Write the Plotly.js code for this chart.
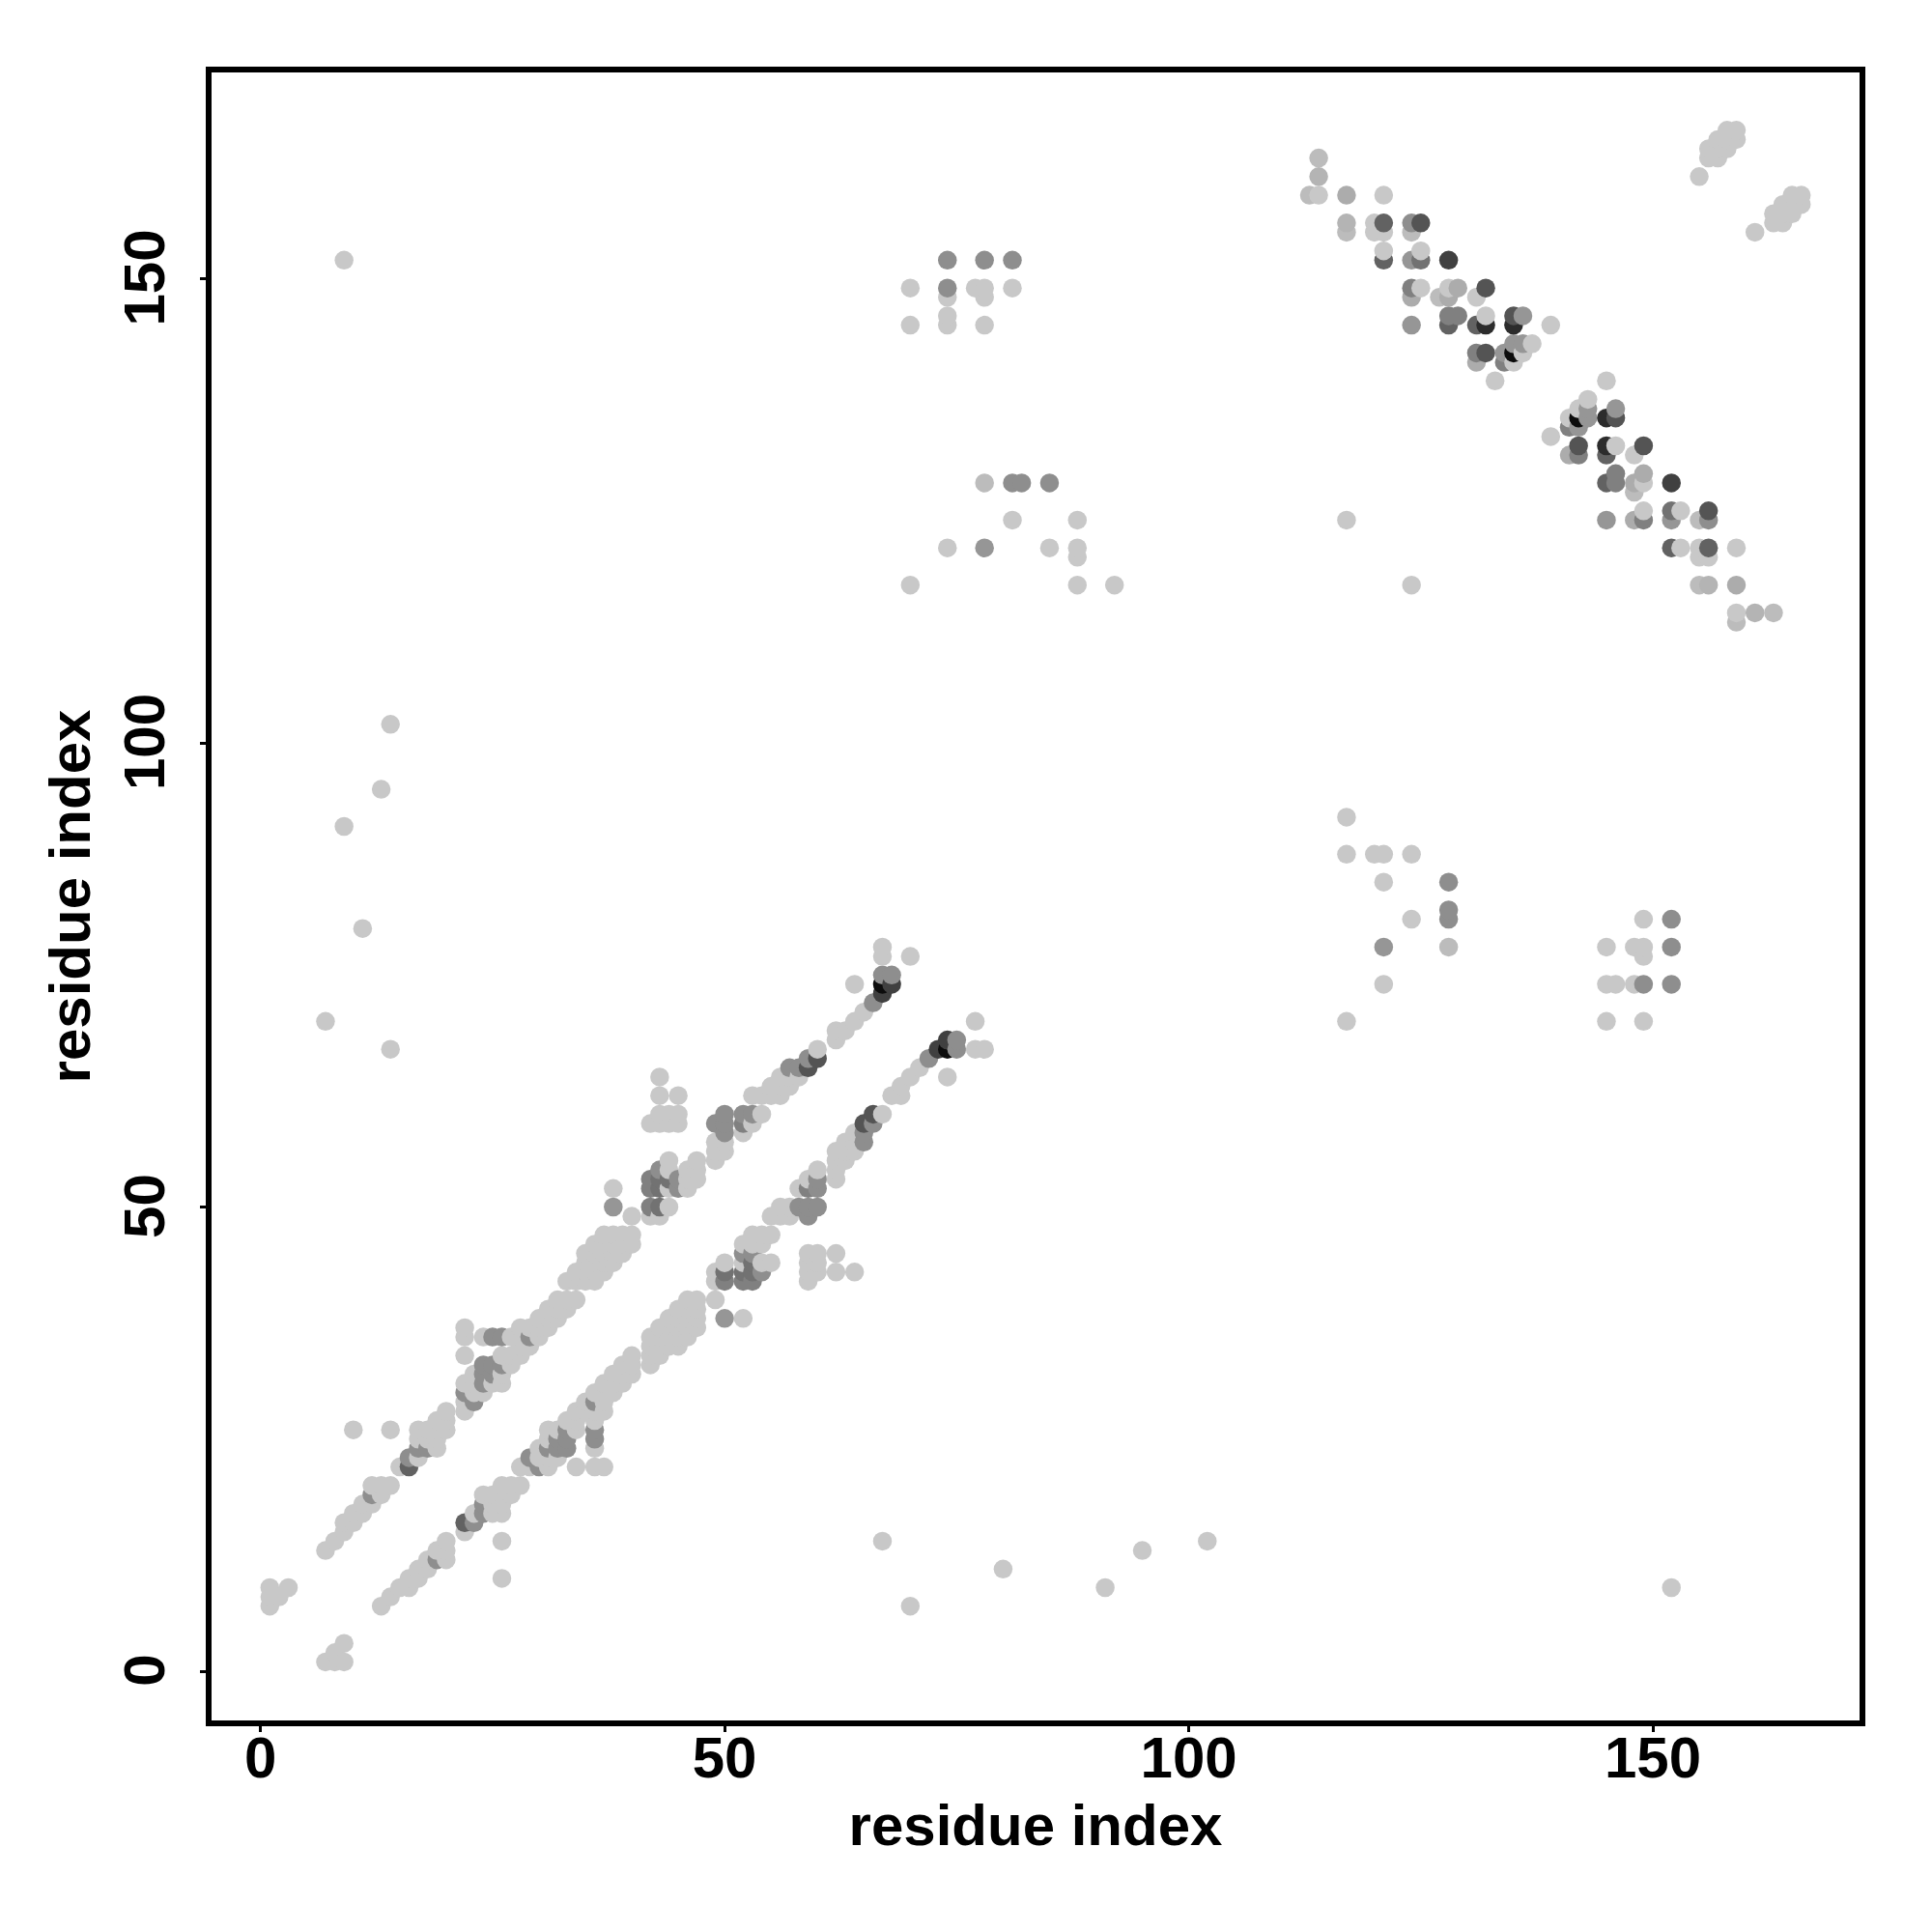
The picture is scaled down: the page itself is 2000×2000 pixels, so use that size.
<!DOCTYPE html>
<html>
<head>
<meta charset="utf-8">
<script src="https://cdn.plot.ly/plotly-3.0.1.min.js"></script>
<style>html,body{margin:0;padding:0;background:#fff}</style>
</head>
<body>
<div id="chart" style="width:2000px;height:2000px"></div>
<script>
// contact pairs [i, j] with i < j, grouped by shade; the map is symmetric
const pairsC8 = [[1,7],[1,8],[1,9],[2,8],[3,9],
 [7,13],[8,14],[9,15],[9,16],[10,16],[10,17],[11,17],[11,18],[12,18],[12,20],[13,19],[13,20],[14,20],
 [15,22],[17,23],[17,25],[17,26],[18,25],[18,26],[19,24],[19,25],[19,26],[19,27],[20,26],[20,27],[20,28],[10,26],[14,26],
 [22,28],[22,29],[22,31],[22,34],[22,36],[22,37],[23,30],[23,31],[23,32],[24,30],[25,31],[26,31],[26,32],[26,34],[27,33],[27,34],[28,34],[28,35],[29,35],
 [24,36],[27,36],[28,36],[30,36],[28,37],[29,37],[30,37],[31,37],[30,38],[31,38],[32,38],[31,39],[32,39],[33,39],[32,40],[33,40],[34,40],
 [33,42],[34,42],[35,42],[36,42],[34,43],[35,43],[36,43],[37,43],[35,44],[36,44],[37,44],[38,44],[35,45],[36,45],[37,45],[38,45],[39,45],
 [36,46],[37,46],[38,46],[39,46],[40,46],[37,47],[38,47],[39,47],[40,47],
 [40,49],[38,52],[42,49],[43,49],[44,50],[44,52],[44,54],[44,55],[46,52],[46,53],[46,54],[47,53],[47,54],[47,55],
 [49,55],[49,56],[49,57],[50,56],[50,57],[52,58],[53,59],[54,60],[43,62],[45,62],[43,64],[42,59],[43,59],[44,59],[45,59],[43,60],[44,60],[45,60],
 [53,62],[54,62],[55,62],[56,62],[55,63],[56,63],[57,63],[56,64],[57,64],[58,64],[60,67],[62,68],[62,69],[63,69],[64,70],[65,71],[64,74],[67,77],[67,78],[70,77],
 [7,70],[14,67],[11,80],[9,91],[13,95],[14,102],[9,152],
 [70,149],[74,148],[77,149],[78,149],[78,148],[81,149],[70,145],[74,146],[74,145],[78,145],[81,124],[88,124],[74,121],[85,121],[88,121],[88,120],[70,117],[88,117],[92,117],
 [117,124],[114,159],[121,159],[120,156],[120,155],[121,155],[121,153],[125,153],[125,149],[128,149],[131,148],[132,146],[139,145],[135,141],[136,142],[137,143],[133,139],
 [155,161],[156,163],[156,164],[157,163],[157,164],[157,165],[158,164],[158,165],[158,166],[159,165],[159,166]];
const pairsBC = [[114,163],[113,159],[117,155],[124,155],[78,128],[127,148]];
const pairsB4 = [[114,161],[117,156]];
const pairsAC = [[117,159],[128,148],[129,149],[124,148],[131,141]];
const pairs96 = [[78,121],[38,50],[124,145],[124,152],[136,146],[134,142],[135,143],[136,143]];
const pairs8E = [[12,19],[16,23],[17,24],[18,24],[22,30],[23,29],[24,31],[24,32],[24,33],[25,32],[25,33],[26,33],[25,36],[26,36],[29,36],
 [43,54],[45,52],[45,53],[49,59],[50,58],[50,59],[50,60],[52,60],[53,60],[57,65],[58,65],[59,66],[66,72],[67,75],[68,75],
 [74,152],[78,152],[81,152],[74,149],[81,128],[82,128],[85,128],[124,156]];
const pairs80 = [[42,50],[42,52],[42,53],[52,59],[124,149],[128,146],[129,146],[131,142],[134,141]];
const pairs72 = [[43,50],[43,52],[43,53],[44,53],[125,152]];
const pairs62 = [[16,22],[121,156],[121,152],[128,145],[131,145]];
const pairs54 = [[59,65],[60,66],[125,156],[132,149],[135,146],[132,142]];
const pairs40 = [[67,73],[68,74],[128,152]];
const pairs2C = [[132,145],[135,145]];
const pairs0C = [[67,74],[135,142]];

const tickValues = [0, 50, 100, 150];
const tickLabels = ['0', '50', '100', '150'];
const axisTitle = 'residue index';

const shadeGroups = [
  ['#c8c8c8', pairsC8], ['#bcbcbc', pairsBC], ['#b4b4b4', pairsB4], ['#acacac', pairsAC],
  ['#969696', pairs96], ['#8e8e8e', pairs8E], ['#808080', pairs80], ['#727272', pairs72],
  ['#626262', pairs62], ['#545454', pairs54], ['#404040', pairs40], ['#2c2c2c', pairs2C], ['#0c0c0c', pairs0C]
];
const points = [];
shadeGroups.forEach(([color, pairs]) => pairs.forEach(([i, j]) => {
  points.push({x: i, y: j, color});
  points.push({x: j, y: i, color});
}));
// drawn in residue order, later residues on top
points.sort((a, b) => a.x - b.x || a.y - b.y);

const font = {family: '"Liberation Sans", Arial, sans-serif', size: 60, weight: 700, color: '#000'};
const axisCommon = {
  tickmode: 'array', tickvals: tickValues, ticktext: tickLabels,
  ticks: 'outside', ticklen: 6, tickwidth: 3, tickcolor: '#000',
  showline: true, linecolor: '#000', linewidth: 6, mirror: true,
  showgrid: false, zeroline: false, tickfont: font, automargin: false
};
Plotly.newPlot('chart', [{
  type: 'scatter', mode: 'markers',
  x: points.map(p => p.x), y: points.map(p => p.y),
  marker: {size: 19.5, color: points.map(p => p.color), line: {width: 0}},
  hoverinfo: 'x+y', cliponaxis: false
}], {
  width: 2000, height: 2000, showlegend: false,
  paper_bgcolor: '#fff', plot_bgcolor: '#fff',
  margin: {l: 219, r: 75, t: 75, b: 219, pad: 0},
  xaxis: Object.assign({}, axisCommon, {
    range: [-5.276, 172.27], ticklabelstandoff: -25,
    title: {text: axisTitle, font: font, standoff: 18}
  }),
  yaxis: Object.assign({}, axisCommon, {
    range: [-5.307, 172.22], tickangle: -90, ticklabelstandoff: 13, ticklabelshift: 8,
    title: {text: axisTitle, font: font, standoff: 5}
  })
}, {displayModeBar: false, staticPlot: true});
</script>
</body>
</html>
